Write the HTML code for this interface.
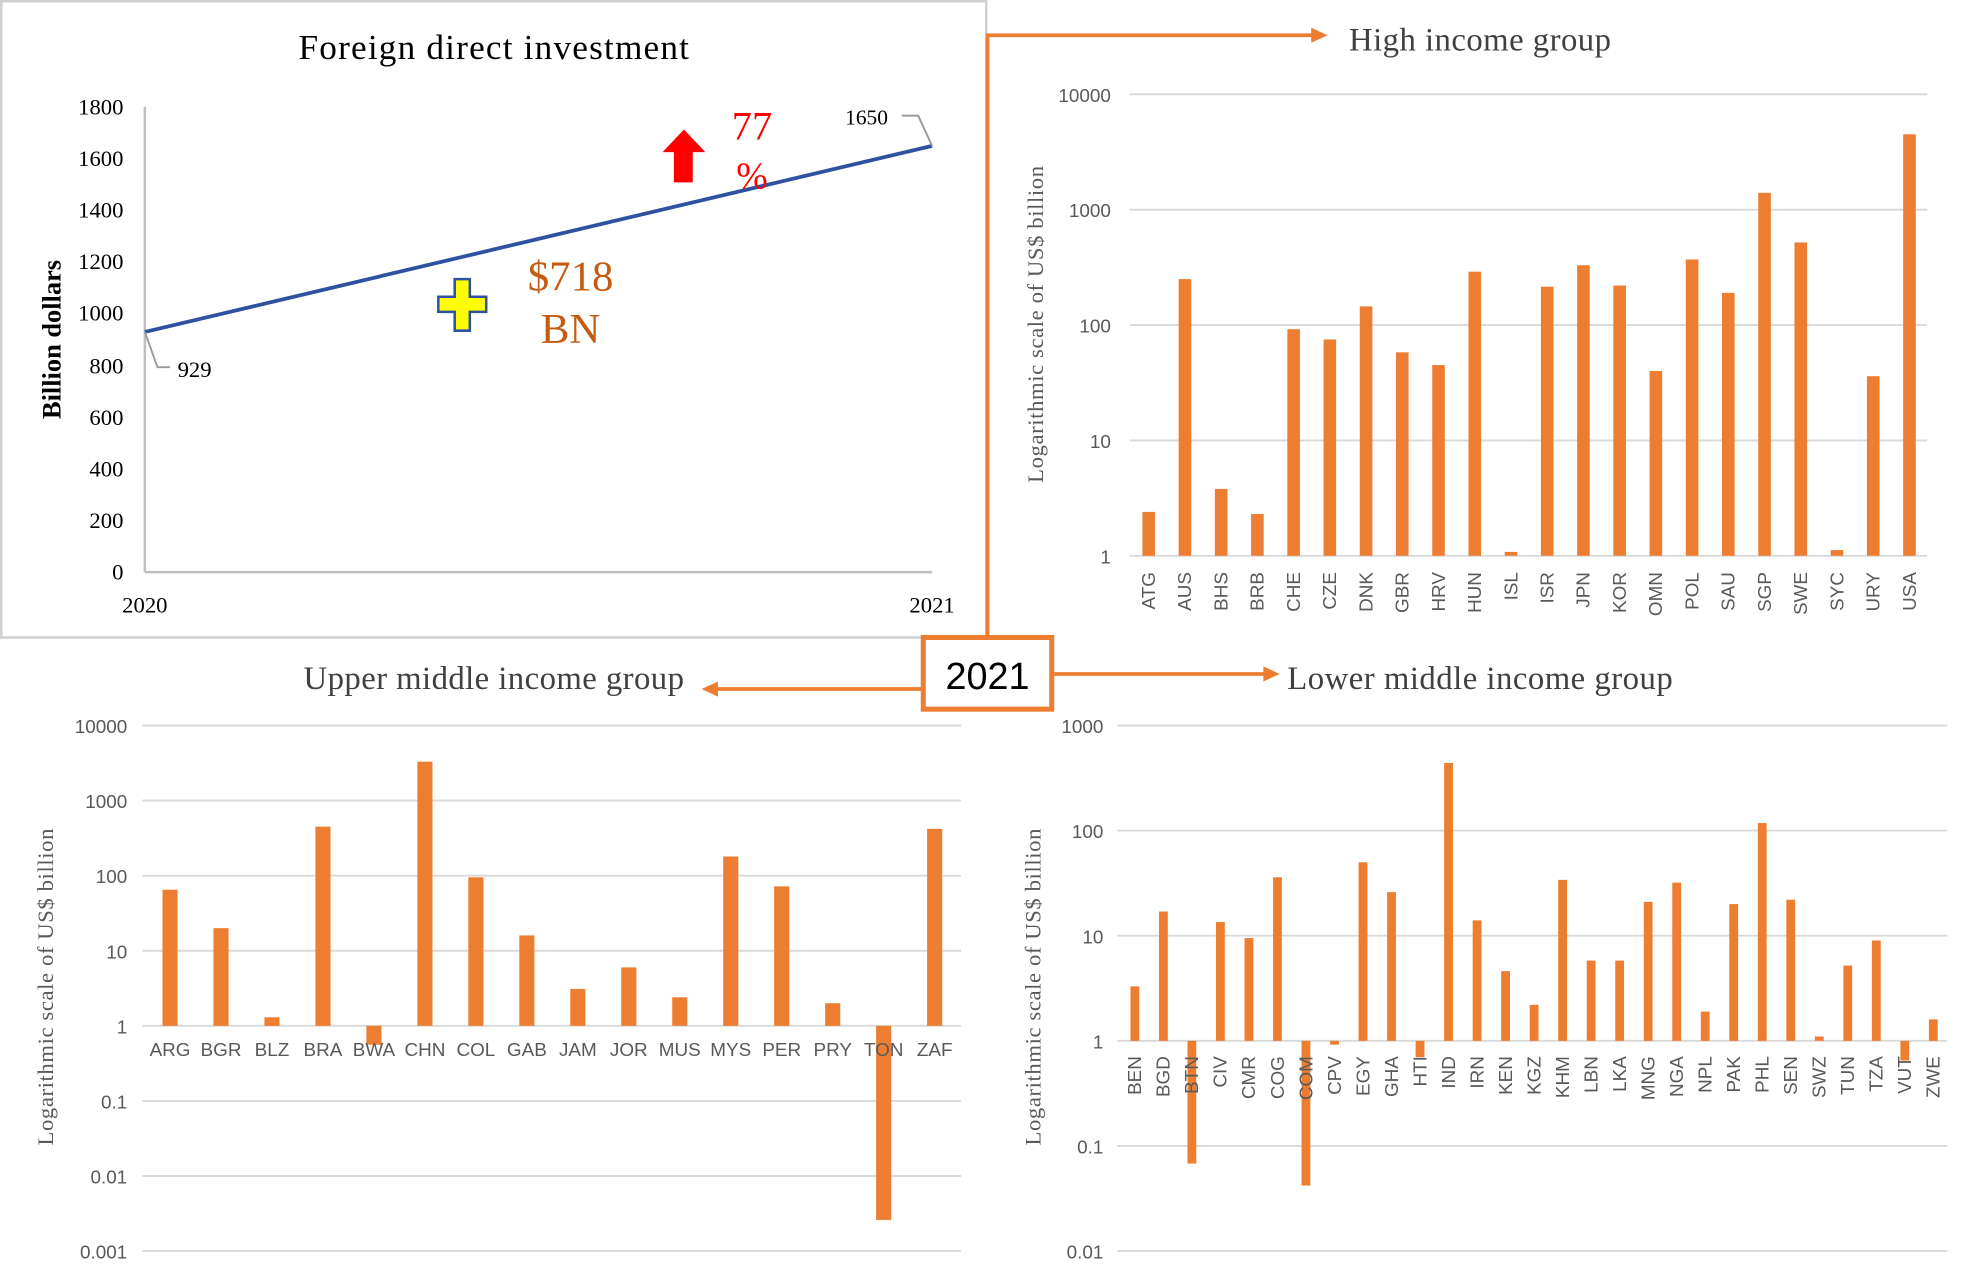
<!DOCTYPE html>
<html><head><meta charset="utf-8"><style>
html,body{margin:0;padding:0;background:#fff;}
svg{display:block;}
</style></head><body>
<svg id="s" width="1975" height="1280" viewBox="0 0 1568 1018" preserveAspectRatio="none" xmlns="http://www.w3.org/2000/svg">
<rect x="0" y="0" width="1568" height="1018" fill="#fff"/>
<rect x="1" y="1" width="782" height="506" fill="none" stroke="#d0d0d0" stroke-width="2"/>
<text x="392" y="47" font-family="Liberation Serif, serif" font-size="28" text-anchor="middle" fill="#000" textLength="310">Foreign  direct  investment</text>
<g font-family="Liberation Serif, serif" font-size="18" fill="#000" text-anchor="end">
<text x="98" y="91">1800</text><text x="98" y="132">1600</text><text x="98" y="173">1400</text>
<text x="98" y="214">1200</text><text x="98" y="255">1000</text><text x="98" y="297">800</text>
<text x="98" y="338">600</text><text x="98" y="379">400</text><text x="98" y="420">200</text>
<text x="98" y="461">0</text>
</g>
<line x1="115" y1="85" x2="115" y2="455" stroke="#bfbfbf" stroke-width="2"/>
<line x1="115" y1="455" x2="740" y2="455" stroke="#bfbfbf" stroke-width="2"/>
<text transform="translate(48,270) rotate(-90)" font-family="Liberation Serif, serif" font-size="21" font-weight="bold" text-anchor="middle">Billion dollars</text>
<line x1="115" y1="264" x2="740" y2="116" stroke="#2f52a0" stroke-width="3"/>
<polyline points="115,264 125,292 135,292" fill="none" stroke="#999" stroke-width="1.5"/>
<text x="141" y="300" font-family="Liberation Serif, serif" font-size="18">929</text>
<polyline points="716,92 729,92 740,116" fill="none" stroke="#999" stroke-width="1.5"/>
<text x="671" y="99" font-family="Liberation Serif, serif" font-size="17">1650</text>
<text x="115" y="487" font-family="Liberation Serif, serif" font-size="18" text-anchor="middle">2020</text>
<text x="740" y="487" font-family="Liberation Serif, serif" font-size="18" text-anchor="middle">2021</text>
<polygon points="543,103 560,121 550,121 550,145 535,145 535,121 526,121" fill="#ff0000"/>
<text x="597" y="111" font-family="Liberation Serif, serif" font-size="32" fill="#ff0000" text-anchor="middle">77</text>
<text x="597" y="150" font-family="Liberation Serif, serif" font-size="30" fill="#ff0000" text-anchor="middle">%</text>
<polygon points="361,222 373,222 373,236 386,236 386,248 373,248 373,263 361,263 361,248 348,248 348,236 361,236" fill="#ffff00" stroke="#2f52a0" stroke-width="2"/>
<text x="453" y="231" font-family="Liberation Serif, serif" font-size="34" fill="#c55a11" text-anchor="middle">$718</text>
<text x="453" y="273" font-family="Liberation Serif, serif" font-size="34" fill="#c55a11" text-anchor="middle">BN</text>
<g stroke="#ed7d31" stroke-width="3" fill="none">
<polyline points="784,507 784,28 1042,28"/>
<line x1="732" y1="548" x2="568" y2="548"/>
<line x1="836" y1="536" x2="1006" y2="536"/>
</g>
<polygon points="1054,28 1041,22 1041,34" fill="#ed7d31"/>
<polygon points="557,548 570,542 570,554" fill="#ed7d31"/>
<polygon points="1016,536 1003,530 1003,542" fill="#ed7d31"/>
<rect x="733" y="507" width="102" height="57" fill="#fff" stroke="#ed7d31" stroke-width="4"/>
<text x="784" y="548" font-family="Liberation Sans, sans-serif" font-size="30" text-anchor="middle">2021</text>
<text x="1175" y="40" font-family="Liberation Serif, serif" font-size="26" fill="#404040" text-anchor="middle" textLength="208">High income group</text>
<text x="392" y="548" font-family="Liberation Serif, serif" font-size="26" fill="#404040" text-anchor="middle" textLength="302">Upper middle income group</text>
<text x="1175" y="548" font-family="Liberation Serif, serif" font-size="26" fill="#404040" text-anchor="middle" textLength="306">Lower middle income group</text>
<g id="charts"></g>
</svg>
<script>
(function(){
var NS="http://www.w3.org/2000/svg",g=document.getElementById('charts');
function el(t,a,txt){var e=document.createElementNS(NS,t);for(var k in a)e.setAttribute(k,a[k]);if(txt!=null)e.textContent=txt;g.appendChild(e);return e;}
function chart(o){
 var dec=(o.y1-o.y0)/(o.maxE-o.minE);
 function Y(v){return o.y1-(Math.log10(v)-o.minE)*dec;}
 for(var e=o.minE;e<=o.maxE;e++){
  var y=Y(Math.pow(10,e));
  el('line',{x1:o.gx0,x2:o.gx1,y1:y,y2:y,stroke:'#d9d9d9','stroke-width':1.5});
  var lab=e>=0?String(Math.pow(10,e)):(e==-1?'0.1':e==-2?'0.01':'0.001');
  el('text',{x:o.lx,y:y+6,'font-family':'Liberation Sans, sans-serif','font-size':15,fill:'#595959','text-anchor':'end'},lab);
 }
 var yb=Y(1);
 o.d.forEach(function(d,i){
  var x=o.cx0+i*o.step,y=Y(d[1]);
  el('rect',{x:x-o.bw/2,y:Math.min(y,yb),width:o.bw,height:Math.max(1,Math.abs(y-yb)),fill:'#ed7d31'});
  if(o.rot){el('text',{transform:'translate('+(x+5)+','+o.ly+') rotate(-90)','font-family':'Liberation Sans, sans-serif','font-size':15,fill:'#595959','text-anchor':'end'},d[0]);}
  else el('text',{x:x,y:o.ly,'font-family':'Liberation Sans, sans-serif','font-size':15,fill:'#595959','text-anchor':'middle'},d[0]);
 });
 el('text',{transform:'translate('+o.tx+','+o.ty+') rotate(-90)','font-family':'Liberation Serif, serif','font-size':18,fill:'#595959','text-anchor':'middle',textLength:252},'Logarithmic scale of US$ billion');
}
chart({y0:75,y1:442,minE:0,maxE:4,gx0:897,gx1:1530,lx:882,cx0:912,step:28.76,bw:10,rot:true,ly:455,tx:828,ty:258,
d:[['ATG',2.4],['AUS',250],['BHS',3.8],['BRB',2.3],['CHE',92],['CZE',75],['DNK',145],['GBR',58],['HRV',45],['HUN',290],['ISL',1.08],['ISR',215],['JPN',330],['KOR',220],['OMN',40],['POL',370],['SAU',190],['SGP',1400],['SWE',520],['SYC',1.12],['URY',36],['USA',4500]]});
chart({y0:577,y1:995,minE:-3,maxE:4,gx0:113,gx1:763,lx:101,cx0:135,step:40.47,bw:12,rot:false,ly:840,tx:42,ty:785,
d:[['ARG',65],['BGR',20],['BLZ',1.3],['BRA',450],['BWA',0.56],['CHN',3300],['COL',95],['GAB',16],['JAM',3.1],['JOR',6],['MUS',2.4],['MYS',180],['PER',72],['PRY',2],['TON',0.0026],['ZAF',420]]});
chart({y0:577,y1:995,minE:-2,maxE:3,gx0:887,gx1:1546,lx:876,cx0:901,step:22.64,bw:7,rot:true,ly:840,tx:826,ty:785,
d:[['BEN',3.3],['BGD',17],['BTN',0.068],['CIV',13.5],['CMR',9.5],['COG',36],['COM',0.042],['CPV',0.92],['EGY',50],['GHA',26],['HTI',0.7],['IND',440],['IRN',14],['KEN',4.6],['KGZ',2.2],['KHM',34],['LBN',5.8],['LKA',5.8],['MNG',21],['NGA',32],['NPL',1.9],['PAK',20],['PHL',118],['SEN',22],['SWZ',1.1],['TUN',5.2],['TZA',9],['VUT',0.65],['ZWE',1.6]]});
})();
</script>
</body></html>
